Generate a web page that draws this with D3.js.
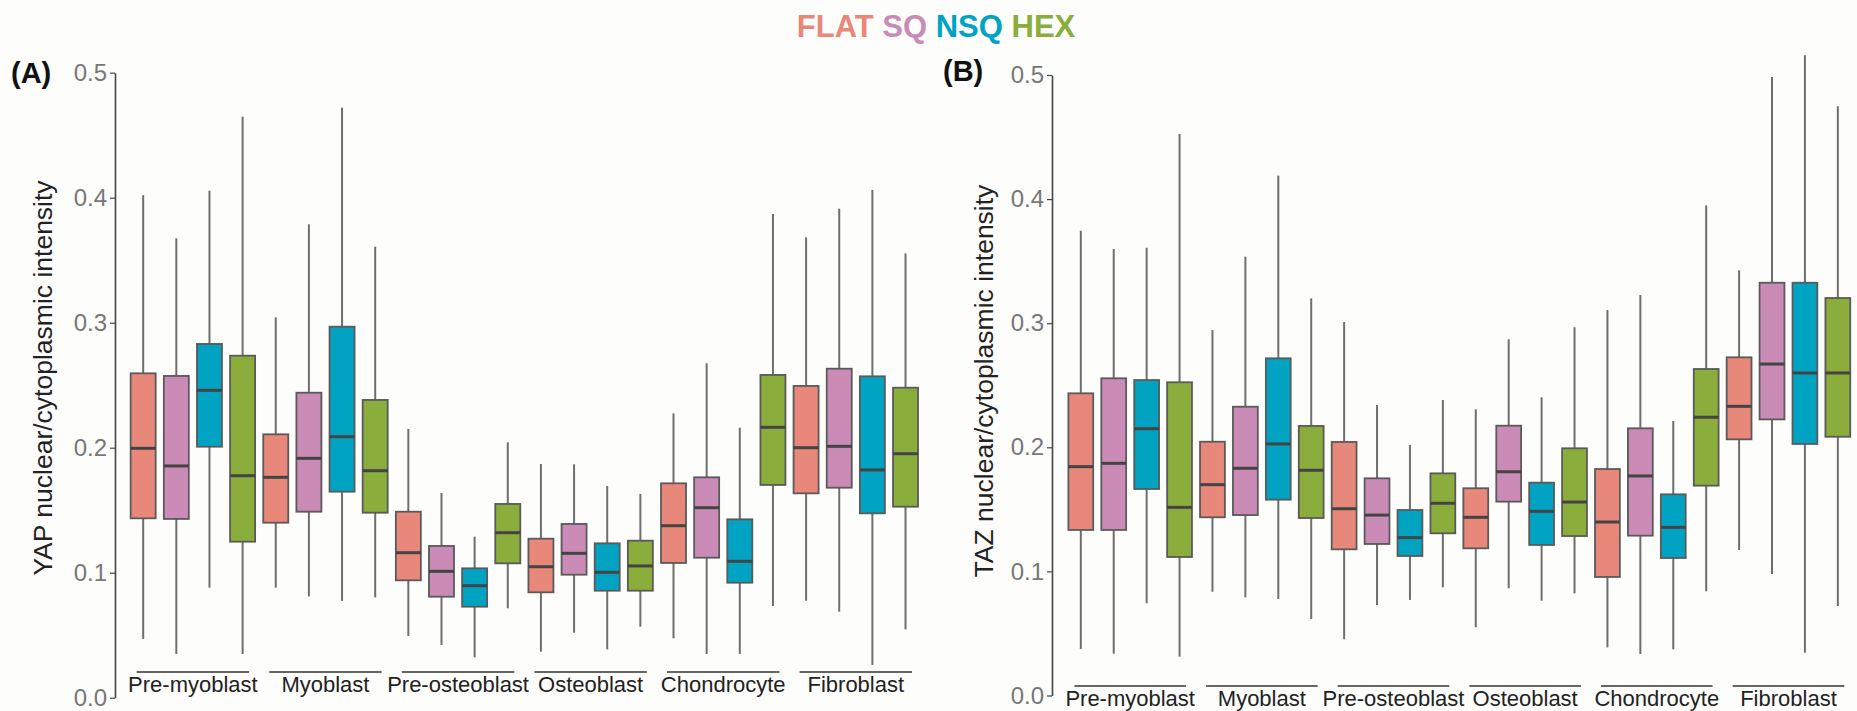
<!DOCTYPE html>
<html>
<head>
<meta charset="utf-8">
<script src="https://cdn.jsdelivr.net/npm/d3@7"></script>
<style>
  html, body { margin: 0; padding: 0; background: #fdfdfc; }
  svg { display: block; }
</style>
</head>
<body>
<svg id="chart" width="1857" height="711"></svg>
<script>
// ---------------- DATA ----------------
const categories = ["Pre-myoblast", "Myoblast", "Pre-osteoblast", "Osteoblast", "Chondrocyte", "Fibroblast"];
const seriesNames = ["FLAT", "SQ", "NSQ", "HEX"];
const seriesColors = ["#e8887a", "#cb8bb7", "#00a3c2", "#8aad3b"];
const yTickValues = [0, 0.1, 0.2, 0.3, 0.4, 0.5];

// each entry: [lower whisker, Q1, median, Q3, upper whisker], one per category
// Panel A : YAP
const yapFLAT = [[0.047,0.1435,0.1995,0.2595,0.402],[0.088,0.140,0.1763,0.2107,0.3043],[0.0494,0.0939,0.116,0.1488,0.215],[0.0368,0.0843,0.1048,0.1272,0.187],[0.0475,0.1078,0.1376,0.1715,0.2275],[0.0776,0.1635,0.200,0.2494,0.3683]];
const yapSQ   = [[0.035,0.143,0.1854,0.2574,0.3675],[0.081,0.1488,0.1915,0.244,0.3787],[0.0422,0.0808,0.1011,0.1214,0.1638],[0.052,0.0984,0.1155,0.139,0.1867],[0.035,0.112,0.152,0.1763,0.2675],[0.0688,0.168,0.2011,0.2632,0.3912]];
const yapNSQ  = [[0.088,0.2008,0.2459,0.283,0.4056],[0.0774,0.1648,0.2088,0.2968,0.472],[0.0323,0.0728,0.0896,0.1035,0.1288],[0.0387,0.0856,0.1003,0.1235,0.1694],[0.035,0.092,0.1091,0.1427,0.216],[0.0262,0.1475,0.1822,0.2571,0.4062]];
const yapHEX  = [[0.035,0.1248,0.1776,0.2736,0.4648],[0.0803,0.148,0.1816,0.2382,0.3608],[0.0715,0.1075,0.132,0.155,0.2043],[0.0568,0.0856,0.1054,0.1256,0.163],[0.0734,0.1702,0.2163,0.2582,0.387],[0.0547,0.1528,0.1952,0.248,0.3555]];

// Panel B : TAZ
const tazFLAT = [[0.0375,0.1334,0.1844,0.2435,0.3745],[0.0836,0.1436,0.1699,0.2045,0.2945],[0.0453,0.1178,0.1505,0.2043,0.301],[0.055,0.1186,0.1436,0.167,0.2306],[0.0388,0.0955,0.1398,0.1825,0.3106],[0.1172,0.2064,0.233,0.2725,0.3426]];
const tazSQ   = [[0.0337,0.1334,0.1871,0.2556,0.3598],[0.0791,0.1454,0.1831,0.2327,0.3536],[0.0729,0.1221,0.1454,0.175,0.2341],[0.0864,0.1562,0.1803,0.2174,0.287],[0.0334,0.1288,0.1769,0.2153,0.3227],[0.0979,0.2225,0.2671,0.3326,0.4984]];
const tazNSQ  = [[0.0743,0.1664,0.215,0.2542,0.3608],[0.0778,0.1578,0.2027,0.2717,0.4189],[0.077,0.1124,0.1272,0.1495,0.2019],[0.0764,0.1213,0.1484,0.1715,0.2403],[0.0372,0.1108,0.1355,0.1621,0.2212],[0.0345,0.2027,0.2599,0.3326,0.516]];
const tazHEX  = [[0.0313,0.1116,0.1516,0.2524,0.4525],[0.0616,0.143,0.1815,0.2172,0.32],[0.0872,0.1307,0.1549,0.179,0.2381],[0.0823,0.1285,0.1559,0.1992,0.2967],[0.084,0.1691,0.2242,0.2631,0.395],[0.0721,0.2085,0.2599,0.3203,0.4748]];

// ---------------- DRAW ----------------
const svg = d3.select("#chart");
svg.append("rect").attr("width", 1857).attr("height", 711).attr("fill", "#fdfdfc");

const FONT = "'Liberation Sans', Arial, Helvetica, sans-serif";

// legend
const legend = svg.append("text")
  .attr("x", 936).attr("y", 37)
  .attr("text-anchor", "middle")
  .attr("font-family", FONT).attr("font-weight", "bold").attr("font-size", 31);
seriesNames.forEach((s, i) => {
  legend.append("tspan").attr("fill", seriesColors[i]).text((i > 0 ? " " : "") + s);
});

function drawPanel(cfg) {
  const g = svg.append("g");
  const y = d3.scaleLinear().domain([0, 0.5]).range([cfg.y0, cfg.y1]);
  const outer = d3.scaleBand().domain(categories).range(cfg.xRange).paddingInner(0).paddingOuter(0);
  const inner = d3.scaleBand().domain(seriesNames).range([0, outer.bandwidth()])
    .paddingInner(0.2456).paddingOuter(0.1228);
  const color = d3.scaleOrdinal().domain(seriesNames).range(seriesColors);

  // y axis
  const axis = d3.axisLeft(y).tickValues(yTickValues).tickFormat(d3.format(".1f"))
    .tickSizeInner(5).tickSizeOuter(0).tickPadding(3);
  const ax = g.append("g").attr("transform", `translate(${cfg.axisX},0)`).call(axis);
  ax.select(".domain").attr("stroke", "#444").attr("stroke-width", 1.6);
  ax.selectAll(".tick line").attr("stroke", "#444").attr("stroke-width", 1.2);
  ax.selectAll(".tick text").attr("fill", "#777").attr("font-size", 24).attr("font-family", FONT);

  // y title
  g.append("text")
    .attr("transform", `translate(${cfg.titleX},${cfg.titleY}) rotate(-90)`)
    .attr("text-anchor", "middle")
    .attr("font-family", FONT).attr("font-size", 26.5).attr("fill", "#222")
    .text(cfg.yTitle);

  // panel label
  g.append("text").attr("x", cfg.labelX).attr("y", cfg.labelY)
    .attr("font-family", FONT).attr("font-weight", "bold").attr("font-size", 29).attr("fill", "#111")
    .text(cfg.panel);

  // boxes
  const rows = [];
  categories.forEach((c, ci) => {
    seriesNames.forEach((s, si) => {
      const v = cfg.data[si][ci];
      rows.push({ cat: c, ser: s, lo: v[0], q1: v[1], med: v[2], q3: v[3], hi: v[4] });
    });
  });
  const bw = inner.bandwidth();
  const box = g.selectAll("g.box").data(rows).enter().append("g").attr("class", "box")
    .attr("transform", d => `translate(${outer(d.cat) + inner(d.ser)},0)`);
  box.append("line").attr("x1", bw / 2).attr("x2", bw / 2)
    .attr("y1", d => y(d.hi)).attr("y2", d => y(d.q3))
    .attr("stroke", "#6e6e6e").attr("stroke-width", 2);
  box.append("line").attr("x1", bw / 2).attr("x2", bw / 2)
    .attr("y1", d => y(d.q1)).attr("y2", d => y(d.lo))
    .attr("stroke", "#6e6e6e").attr("stroke-width", 2);
  box.append("rect").attr("x", 0).attr("width", bw)
    .attr("y", d => y(d.q3)).attr("height", d => y(d.q1) - y(d.q3))
    .attr("fill", d => color(d.ser)).attr("stroke", "#5a5a5a").attr("stroke-width", 1.8);
  box.append("line").attr("x1", 0).attr("x2", bw)
    .attr("y1", d => y(d.med)).attr("y2", d => y(d.med))
    .attr("stroke", "#444").attr("stroke-width", 3);

  // group labels with overlines
  const grp = g.selectAll("g.grp").data(categories).enter().append("g").attr("class", "grp");
  const gx0 = c => outer(c) + inner(seriesNames[0]);
  const gx1 = c => outer(c) + inner(seriesNames[3]) + bw;
  grp.append("line")
    .attr("x1", c => gx0(c) + 6).attr("x2", c => gx1(c) - 6)
    .attr("y1", cfg.overlineY).attr("y2", cfg.overlineY)
    .attr("stroke", "#333").attr("stroke-width", 1.5);
  grp.append("text")
    .attr("x", c => (gx0(c) + gx1(c)) / 2).attr("y", cfg.catLabelY)
    .attr("text-anchor", "middle")
    .attr("font-family", FONT).attr("font-size", 22).attr("fill", "#222")
    .text(c => c);
}

drawPanel({
  panel: "(A)", labelX: 11, labelY: 83,
  yTitle: "YAP nuclear/cytoplasmic intensity", titleX: 52, titleY: 378,
  axisX: 115, y0: 697.7, y1: 72.7, xRange: [126.6, 922.1],
  overlineY: 672, catLabelY: 692,
  data: [yapFLAT, yapSQ, yapNSQ, yapHEX]
});
drawPanel({
  panel: "(B)", labelX: 943, labelY: 81,
  yTitle: "TAZ nuclear/cytoplasmic intensity", titleX: 993, titleY: 381,
  axisX: 1052, y0: 695.5, y1: 75, xRange: [1064.35, 1854.3],
  overlineY: 686, catLabelY: 706,
  data: [tazFLAT, tazSQ, tazNSQ, tazHEX]
});
</script>
</body>
</html>
